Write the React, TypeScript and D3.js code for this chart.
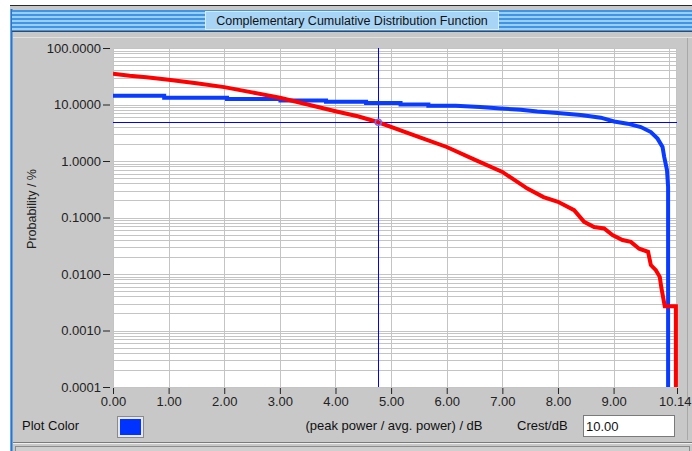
import React, { useEffect, useRef } from "react";
import * as d3 from "d3";

// CCDF of measured signal (red) and reference (blue), x in dB, y in %
const redX = [0, 0.3, 0.6, 1.0, 1.5, 2.0, 2.5, 3.0, 3.5, 4.0, 4.4, 4.77, 5.17, 5.53, 6.0, 6.5, 7.0, 7.45, 7.74, 8.0, 8.29, 8.47, 8.65, 8.83, 8.98, 9.16, 9.31, 9.46, 9.62, 9.67, 9.76, 9.83, 9.86, 9.92, 10.12, 10.12];
const redY = [35, 32.3, 30.3, 27.4, 23.8, 20.3, 16.4, 13.2, 10.0, 7.6, 6.2, 4.85, 3.5, 2.6, 1.77, 1.06, 0.64, 0.325, 0.23, 0.19, 0.135, 0.084, 0.068, 0.064, 0.049, 0.04, 0.037, 0.028, 0.0247, 0.0144, 0.0117, 0.0089, 0.0056, 0.0027, 0.0027, 0.0001];

const blueX = [0, 0.92, 0.92, 2.05, 2.05, 3.01, 3.01, 3.83, 3.83, 4.55, 4.55, 5.17, 5.17, 5.67, 5.67, 6.16, 6.6, 6.97, 7.33, 7.63, 7.99, 8.41, 8.77, 9.01, 9.25, 9.49, 9.67, 9.79, 9.88, 9.91, 9.96, 9.98, 9.98];
const blueY = [14.3, 14.3, 13.2, 13.2, 12.5, 12.5, 11.8, 11.8, 11.2, 11.2, 10.6, 10.6, 10.0, 10.0, 9.5, 9.5, 9.0, 8.5, 8.1, 7.5, 7.05, 6.5, 5.85, 5.0, 4.58, 3.99, 3.25, 2.49, 1.77, 1.18, 0.69, 0.35, 0.0001];

const yTicks = [100, 10, 1, 0.1, 0.01, 0.001, 0.0001];
const xTicks = [0, 1, 2, 3, 4, 5, 6, 7, 8, 9, 10.14];
const cursorX = 4.77;
const cursorY = 4.85;

const title = "Complementary Cumulative Distribution Function";
const xLabel = "(peak power / avg. power) / dB";
const yLabel = "Probability / %";
const crest = "10.00";

const W = 692;
const H = 451;
const FONT = "'Liberation Sans', Arial, sans-serif";

const App = () => {
  const svgRef = useRef<SVGSVGElement>(null);

  useEffect(() => {
    const svg = d3.select(svgRef.current);
    svg.selectAll("*").remove();

    const left = 113, right = 677, top = 48, bottom = 387;
    const x = d3.scaleLinear().domain([0, 10.14]).range([left, right]);
    const y = d3.scaleLog().domain([0.0001, 100]).range([bottom, top]);

    // page + frame
    svg.append("rect").attr("width", W).attr("height", H).attr("fill", "#fff");
    svg.append("rect").attr("x", 10).attr("y", 5).attr("width", W - 10).attr("height", H - 5).attr("fill", "#c8c8c8");
    svg.append("line").attr("x1", 10).attr("x2", W).attr("y1", 5.5).attr("y2", 5.5).attr("stroke", "#2a2a2a");
    svg.append("line").attr("x1", 11.5).attr("x2", 11.5).attr("y1", 9).attr("y2", H).attr("stroke", "#1a78e0").attr("stroke-width", 2);

    // title bar stripes
    const stripes = d3.range(10, 31, 2);
    svg.selectAll(".stripe").data(stripes).enter().append("rect")
      .attr("x", 12).attr("y", (d) => d).attr("width", W - 12).attr("height", 2)
      .attr("fill", (d, i) => (i % 2 ? "#9ccff5" : "#3f95e4"));
    svg.append("line").attr("x1", 12).attr("x2", W).attr("y1", 31.5).attr("y2", 31.5).attr("stroke", "#404858");
    svg.append("rect").attr("x", 205.5).attr("y", 11.5).attr("width", 293).attr("height", 18)
      .attr("fill", "#a8d4f6").attr("stroke", "#d8ecfc");
    svg.append("text").attr("x", 352).attr("y", 25).attr("text-anchor", "middle")
      .style("font-family", FONT).style("font-size", "12.5px").attr("fill", "#111").text(title);

    // inner panel light border
    svg.append("line").attr("x1", 13).attr("x2", W).attr("y1", 37.5).attr("y2", 37.5).attr("stroke", "#e2e2e2");
    svg.append("line").attr("x1", 687.5).attr("x2", 687.5).attr("y1", 38).attr("y2", 440).attr("stroke", "#a8a8a8");

    // plot background
    svg.append("rect").attr("x", left).attr("y", top).attr("width", right - left).attr("height", bottom - top).attr("fill", "#fff");

    // grid
    const hGrid: number[] = [];
    for (let e = -4; e <= 1; e++) for (let k = 1; k <= 9; k++) hGrid.push(k * Math.pow(10, e));
    hGrid.push(100);
    svg.append("g").selectAll("line").data(hGrid).enter().append("line")
      .attr("x1", left).attr("x2", right)
      .attr("y1", (d) => Math.round(y(d)) + 0.5).attr("y2", (d) => Math.round(y(d)) + 0.5)
      .attr("stroke", "#c4c4c4");
    svg.append("g").selectAll("line").data(d3.range(1, 11)).enter().append("line")
      .attr("x1", (d) => Math.round(x(d)) + 0.5).attr("x2", (d) => Math.round(x(d)) + 0.5)
      .attr("y1", top).attr("y2", bottom)
      .attr("stroke", "#c4c4c4");
    svg.append("rect").attr("x", left + 0.5).attr("y", top + 0.5).attr("width", right - left - 1).attr("height", bottom - top)
      .attr("fill", "none").attr("stroke", "#c4c4c4");

    // axes
    const yAxis = svg.append("g").attr("transform", `translate(${left - 3},0)`)
      .call(d3.axisLeft(y).tickValues(yTicks).tickSize(7).tickPadding(2).tickFormat((d) => (+d).toFixed(4)));
    yAxis.select(".domain").remove();
    yAxis.selectAll("line").attr("stroke", "#222");
    yAxis.selectAll("text").style("font-family", FONT).style("font-size", "13px").attr("fill", "#222");

    const xAxis = svg.append("g").attr("transform", `translate(0,${bottom + 1})`)
      .call(d3.axisBottom(x).tickValues(xTicks).tickSize(6).tickPadding(3).tickFormat((d) => (+d).toFixed(2)));
    xAxis.select(".domain").remove();
    xAxis.selectAll("line").attr("stroke", "#222");
    xAxis.selectAll("text").style("font-family", FONT).style("font-size", "13px").attr("fill", "#222");
    // last label sits flush against the right edge
    xAxis.selectAll<SVGTextElement, number>("text").filter((d) => d === 10.14)
      .attr("text-anchor", "end").attr("dx", 14);

    svg.append("text").attr("transform", "rotate(-90)").attr("x", -209).attr("y", 36)
      .attr("text-anchor", "middle").style("font-family", FONT).style("font-size", "12.5px").attr("fill", "#222").text(yLabel);

    // curves
    svg.append("clipPath").attr("id", "plotclip").append("rect")
      .attr("x", left).attr("y", top).attr("width", right - left + 1).attr("height", bottom - top);
    const line = d3.line<[number, number]>().x((d) => x(d[0])).y((d) => y(d[1]));
    const plot = svg.append("g").attr("clip-path", "url(#plotclip)");

    // cursor lines
    plot.append("line").attr("x1", Math.round(x(cursorX)) + 0.5).attr("x2", Math.round(x(cursorX)) + 0.5)
      .attr("y1", top).attr("y2", bottom).attr("stroke", "#0000ff");
    plot.append("line").attr("x1", left).attr("x2", right)
      .attr("y1", Math.round(y(cursorY)) + 0.5).attr("y2", Math.round(y(cursorY)) + 0.5).attr("stroke", "#0000ff");

    plot.append("path").datum(blueX.map((v, i) => [v, blueY[i]] as [number, number]))
      .attr("d", line).attr("fill", "none").attr("stroke", "#0a3cff").attr("stroke-width", 4);
    plot.append("path").datum(redX.map((v, i) => [v, redY[i]] as [number, number]))
      .attr("d", line).attr("fill", "none").attr("stroke", "#ff0000").attr("stroke-width", 4);

    plot.append("circle").attr("cx", x(cursorX)).attr("cy", y(cursorY)).attr("r", 3)
      .attr("fill", "none").attr("stroke", "#6a6aff").attr("stroke-width", 1.5);

    // bottom controls
    svg.append("text").attr("x", 22).attr("y", 430).style("font-family", FONT).style("font-size", "13px").attr("fill", "#111").text("Plot Color");
    svg.append("rect").attr("x", 117.5).attr("y", 416.5).attr("width", 26).attr("height", 21).attr("fill", "#e8e8e8").attr("stroke", "#8a8a8a");
    svg.append("rect").attr("x", 120).attr("y", 419).attr("width", 21).attr("height", 16).attr("fill", "#0033ff");

    svg.append("text").attr("x", 394).attr("y", 430).attr("text-anchor", "middle")
      .style("font-family", FONT).style("font-size", "13px").attr("fill", "#111").text(xLabel);
    svg.append("text").attr("x", 517).attr("y", 430)
      .style("font-family", FONT).style("font-size", "13px").attr("fill", "#111").text("Crest/dB");
    svg.append("rect").attr("x", 583.5).attr("y", 415.5).attr("width", 91).attr("height", 21).attr("fill", "#fff").attr("stroke", "#7a7a7a");
    svg.append("text").attr("x", 586).attr("y", 431)
      .style("font-family", FONT).style("font-size", "13px").attr("fill", "#111").text(crest);

    svg.append("line").attr("x1", 13).attr("x2", W).attr("y1", 442.5).attr("y2", 442.5).attr("stroke", "#7a7a7a");
    svg.append("line").attr("x1", 13).attr("x2", W).attr("y1", 443.5).attr("y2", 443.5).attr("stroke", "#eeeeee");
    svg.append("rect").attr("x", 15.5).attr("y", 446.5).attr("width", 674).attr("height", 10)
      .attr("fill", "#cfcfcf").attr("stroke", "#8c8c8c");
  }, []);

  return (
    <svg ref={svgRef} width={W} height={H} style={{ position: "fixed", left: 0, top: 0, display: "block" }} />
  );
};

export default App;
